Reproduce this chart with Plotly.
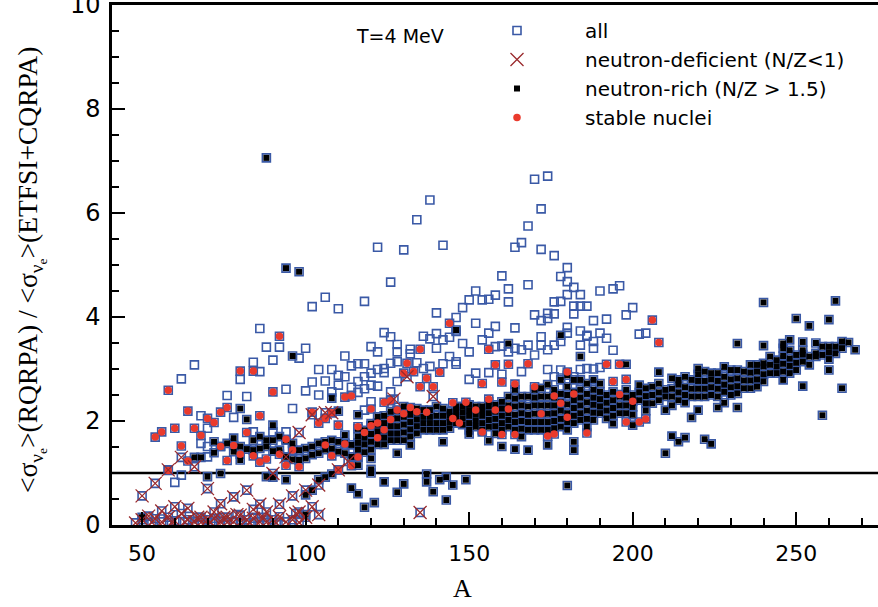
import plotly.graph_objects as go

# ---------------- data (A, ratio) ----------------
# nuclei shown only as open squares ("all" but in no other group)
other_A = [86,102,106,110,118,122,126,130,134,138,
           140,142,146,148,150,152,152,154,156,158,
           158,160,162,162,164,164,166,168,168,170,
           170,172,172,172,174,174,174,176,176,176,
           178,178,180,180,180,180,182,182,182,184,
           184,184,186,186,188,190,190,192,194,192,
           196,198,200,202,204,194,124,126,136,138,
           140,100,104,108,106,110,108,100,112,114,
           116,118,120,122,128,128,124,126,128,120,
           122,66,62,88,92,98,90,84,86,80,
           76,82,94,96,78,68,70,68,70,110,
           116,114,84,90,94,62,60,70,132,132,
           140,142,144,146,144,146,148,150,154,156,
           158,160,162,164,166,168,170,172,172,174,
           176,178,180,184,186,188,188,184,186,188,
           190,118,122,120,124,136,146,152,156,174,
           176,178,182,120,118,126,128,104,112,102,
           116,118,134,138,142,150,160,166]
other_R = [3.78,4.20,4.38,4.16,4.30,5.34,4.67,5.29,5.87,6.25,
           4.08,5.38,3.99,4.18,4.33,4.50,3.88,4.33,4.34,4.42,
           3.82,4.79,4.54,4.29,5.34,3.79,5.43,5.75,4.62,6.65,
           4.04,6.08,5.30,3.93,6.71,4.07,3.97,5.18,4.29,4.06,
           4.78,4.30,4.95,4.68,4.43,3.80,4.57,4.21,4.06,4.43,
           4.21,3.73,4.21,3.65,3.93,4.50,3.69,3.96,4.54,3.59,
           4.60,4.04,4.18,3.67,3.69,3.36,3.70,3.62,3.63,3.58,
           3.68,3.40,2.99,2.99,2.77,2.69,2.56,2.58,3.25,3.06,
           3.10,3.10,3.43,3.33,3.47,3.33,3.01,3.11,3.14,2.69,
           2.67,3.08,2.81,3.42,3.42,3.21,3.17,3.13,2.95,2.80,
           2.49,2.47,2.61,2.24,2.07,2.10,1.86,1.57,1.51,2.88,
           2.76,2.65,1.79,1.79,1.79,0.96,0.82,1.31,3.38,3.29,
           3.40,3.56,3.61,3.72,3.24,3.14,3.49,3.33,3.56,3.69,
           3.43,3.44,3.33,3.40,3.37,3.46,3.27,3.46,3.62,3.37,
           3.46,3.53,3.69,3.46,3.63,3.53,3.40,2.99,3.01,3.00,
           3.03,2.85,2.99,2.92,2.93,3.01,3.09,2.92,2.93,2.99,
           2.85,2.98,2.85,2.37,2.21,2.56,2.76,2.50,2.85,2.75,
           2.55,2.62,3.12,3.05,3.10,2.80,2.90,2.95]

# stable nuclei (red dots)
stable_A = [54,56,58,58,60,62,64,64,66,68,
            70,72,74,74,76,76,78,80,80,82,
            84,84,86,86,88,90,92,92,94,94,
            96,98,102,104,106,106,108,108,110,110,
            112,112,114,114,116,116,118,120,120,122,
            122,124,124,126,126,128,130,130,131,132,
            133,134,135,135,137,137,139,141,144,145,
            145,147,149,152,154,154,156,156,158,158,
            160,160,162,162,164,164,168,170,172,174,
            176,176,178,180,180,182,186,192,194,206,
            208,196,198,196,200,198,202,204]
stable_R = [1.69,1.79,2.59,1.05,1.86,1.52,2.19,1.23,1.86,1.72,
            2.05,1.97,2.17,1.51,2.26,1.24,1.53,2.96,1.36,1.78,
            2.96,1.33,2.10,1.21,1.27,2.56,3.63,1.36,1.65,1.15,
            1.44,1.12,2.17,1.96,2.05,1.54,2.16,1.33,1.92,1.06,
            2.46,1.56,2.48,1.14,1.89,1.31,1.78,2.23,1.91,1.96,
            1.68,2.36,1.83,2.39,2.03,2.21,2.14,2.92,3.11,2.26,
            2.95,2.18,3.38,2.66,2.82,2.17,2.66,2.94,3.88,2.35,
            2.05,1.96,2.36,2.21,2.72,1.79,3.38,2.42,3.08,2.21,
            2.75,1.74,3.09,2.23,2.71,1.74,3.10,2.66,2.14,1.71,
            2.48,1.75,2.34,2.94,2.07,2.52,1.77,3.09,2.76,3.94,
            3.51,3.09,2.80,2.51,2.38,1.98,1.98,2.04]

# neutron-deficient nuclei (crosses)
deficient_A = [48,50,50,52,53,54,54,56,56,58,
               58,59,60,60,62,62,63,64,64,66,
               66,67,68,68,70,70,71,72,72,74,
               74,75,76,76,78,78,79,80,80,82,
               82,83,84,84,86,86,87,88,88,90,
               90,91,92,92,94,94,96,96,97,98,
               98,98,100,100,102,102,104,104,106,108,
               110,113,127,131,139,135]
deficient_R = [0.04,0.56,0.10,0.17,0.05,0.80,0.12,0.27,0.06,1.06,
               0.15,0.05,0.35,0.08,1.30,0.22,0.06,0.32,0.10,1.12,
               0.06,0.15,0.15,0.05,0.70,0.10,0.05,0.13,0.25,0.41,
               0.06,0.15,0.15,0.05,0.54,0.06,0.20,0.19,0.05,0.67,
               0.10,0.04,0.13,0.30,0.40,0.06,0.15,0.25,0.05,0.99,
               0.10,0.04,0.40,0.16,1.31,0.06,0.56,0.10,0.22,1.78,
               0.25,0.05,0.67,0.15,0.35,2.12,0.77,0.20,2.16,2.16,
               1.06,1.22,2.42,2.85,2.47,0.24]

# neutron-rich nuclei (black squares): scattered points
rich_A = [50,88,94,98,96,80,82,90,108,110,
          146,162,178,184,180,70,74,88,90,94,
          100,100,102,104,106,108,114,116,118,120,
          121,124,128,130,137,137,139,141,143,143,
          145,149,66,68,72,72,74,76,78,78,
          80,80,82,84,84,86,86,88,88,90,
          90,92,92,94,94,96,96,98,98,100,
          100,102,102,104,104,106,106,108,108,110,
          110,112,112,112,114,114,116,
          240,262,250,260,254,232,240,248,252,256,
          260,252,264,258,208,198,212,214,216,210,
          222,224,210,218,226,232,220,200,
          128,132,142,150,156,160,164,168,174,182,
          182,120,116]
rich_R = [0.15,7.06,4.94,4.87,3.25,2.24,2.03,1.92,2.44,2.19,
          3.75,3.49,3.65,3.24,0.76,0.93,0.99,0.93,0.92,0.87,
          0.58,0.20,0.67,0.87,0.92,0.98,0.71,0.60,0.34,1.00,
          0.43,0.83,0.63,0.79,0.98,0.83,0.64,0.87,0.92,0.48,
          0.77,0.87,1.30,1.30,1.60,1.39,1.51,1.57,1.67,1.41,
          1.51,1.25,1.46,1.63,1.44,1.70,1.47,1.51,1.63,1.63,
          1.42,1.70,1.44,1.63,1.31,1.57,1.26,1.44,1.25,1.47,
          1.28,1.51,1.35,1.57,1.38,1.60,1.45,1.63,1.47,1.60,
          1.41,1.73,1.57,1.38,1.54,1.31,2.12,
          4.28,4.31,3.97,3.95,3.83,3.49,3.45,3.56,3.52,3.50,
          2.98,2.67,2.63,2.11,2.94,3.09,1.71,1.60,1.68,1.38,
          1.65,1.56,2.21,2.07,2.26,2.26,2.21,1.92,
          1.38,1.54,1.60,1.75,1.62,1.51,1.46,1.44,1.54,1.60,
          1.44,1.07,1.15]

# neutron-rich nuclei forming the dense band: one column of ratios per A
band_A = [116,118,120,122,124,126,128,130,132,134,136,138,140,142,144,146,148,150,
          152,154,156,158,160,162,164,166,168,170,172,174,176,178,180,182,184,186,
          188,190,192,194,196,198,200,202,204,206,208,210,212,214,216,218,220,222,
          224,226,228,230,232,234,236,238,240,242,244,246,248,250,252,254,256,258,
          260,262,264,266,268]
band_R = [[1.31,1.45,1.58,1.70,1.85],[1.40,1.55,1.68,1.82],[1.28,1.45,1.60,1.75,1.95],
          [1.55,1.68,1.80,1.93,2.08],[1.55,1.68,1.82,1.96,2.10],[1.63,1.76,1.90,2.04,2.18],
          [1.63,1.76,1.90,2.05,2.20],[1.63,1.78,1.93,2.08,2.28],[1.70,1.84,1.98,2.12,2.21],
          [1.76,1.90,2.03,2.16,2.24],[1.83,1.96,2.08,2.21],[1.83,1.96,2.08,2.21],
          [1.83,1.96,2.10,2.28],[1.83,1.96,2.10,2.24],[1.86,1.98,2.10,2.18],
          [1.96,2.08,2.18,2.28],[1.93,2.05,2.17,2.28],[1.83,1.96,2.10,2.20,2.31],
          [1.89,2.00,2.12,2.28],[1.83,1.96,2.10,2.21,2.28],[1.89,2.02,2.15,2.28,2.37],
          [1.76,1.90,2.04,2.18,2.31],[1.83,1.96,2.10,2.24,2.37],[1.89,2.02,2.15,2.30,2.47],
          [1.83,1.98,2.12,2.28,2.43,2.60],[1.70,1.85,2.00,2.15,2.30,2.47],
          [1.83,1.98,2.12,2.28,2.47],[1.83,1.98,2.14,2.30,2.45,2.60],
          [1.83,1.98,2.14,2.30,2.47,2.63],[1.83,1.98,2.14,2.30,2.47,2.70],
          [1.86,2.00,2.15,2.30,2.45,2.60],[1.89,2.04,2.20,2.36,2.52,2.79],
          [1.83,1.98,2.15,2.32,2.50,2.66,2.88],[1.96,2.10,2.25,2.40,2.55,2.79],
          [2.02,2.15,2.30,2.45,2.60,2.79],[1.89,2.04,2.20,2.36,2.52,2.72],
          [2.02,2.16,2.31,2.45,2.60,2.79],[2.15,2.28,2.42,2.56,2.72],
          [2.05,2.20,2.35,2.50],[1.95,2.10,2.25,2.40,2.56],[2.15,2.30,2.47],
          [2.15,2.30,2.45,2.60],[2.12,2.27,2.40,2.50],[2.40,2.55,2.69],
          [2.20,2.34,2.48,2.63],[2.34,2.50,2.66],[2.40,2.55,2.72],[2.47,2.60],
          [2.30,2.47,2.62,2.82],[2.40,2.55,2.70,2.79],[2.35,2.50,2.65,2.85],
          [2.47,2.62,2.79],[2.47,2.62,2.77,2.90,3.01],[2.47,2.62,2.77,2.95],
          [2.50,2.65,2.80,2.92],[2.47,2.62,2.77,2.92],[2.35,2.56,2.70,2.85,3.04],
          [2.50,2.65,2.80,2.98],[2.53,2.67,2.82,2.98],[2.63,2.78,2.95],
          [2.63,2.78,2.93,3.08],[2.66,2.80,2.95,3.08],[2.76,2.90,3.05,3.11],
          [2.92,3.08,3.24],[2.92,3.05,3.17],[2.79,2.95,3.10,3.25,3.40,3.49],
          [2.92,3.06,3.20,3.36],[2.98,3.12,3.27],[3.14,3.28,3.36],[3.08,3.24],
          [3.24,3.30],[3.27,3.43],[3.19,3.32,3.43],[3.30,3.43],[3.40,3.53],[3.51],[3.37]]

y_ticks = [0, 2, 4, 6, 8, 10]
x_ticks = [50, 100, 150, 200, 250]

assert len(other_A) == len(other_R)
assert len(stable_A) == len(stable_R)
assert len(deficient_A) == len(deficient_R)
assert len(rich_A) == len(rich_R)
assert len(band_A) == len(band_R)

richall_A = list(rich_A)
richall_R = list(rich_R)
for a, col in zip(band_A, band_R):
    for r in col:
        richall_A.append(a)
        richall_R.append(r)

all_A = other_A + richall_A + stable_A + deficient_A
all_R = other_R + richall_R + stable_R + deficient_R

# ---------------- styling ----------------
BLUE = '#3a59a6'
RED = '#ea3a2c'
DRED = '#9a2a2c'
SANS = 'DejaVu Sans, Arial, sans-serif'
SERIF = 'Liberation Serif, Times New Roman, serif'

fig = go.Figure()
fig.add_trace(go.Scatter(
    x=all_A, y=all_R, mode='markers', name='all', legendrank=1,
    marker=dict(symbol='square-open', size=8, color=BLUE, line=dict(width=1.6, color=BLUE))))
fig.add_trace(go.Scatter(
    x=richall_A, y=richall_R, mode='markers', name='neutron-rich (N/Z > 1.5)', legendrank=3,
    marker=dict(symbol='square', size=6, color='black', line=dict(width=0))))
fig.add_trace(go.Scatter(
    x=stable_A, y=stable_R, mode='markers', name='stable nuclei', legendrank=4,
    marker=dict(symbol='circle', size=7.5, color=RED, line=dict(width=0))))
fig.add_trace(go.Scatter(
    x=deficient_A, y=deficient_R, mode='markers', name='neutron-deficient (N/Z<1)', legendrank=2,
    marker=dict(symbol='x-thin', size=13, color=DRED, line=dict(width=1.3, color=DRED))))

axis_common = dict(
    ticks='inside', ticklen=13, tickwidth=2, tickcolor='black',
    showline=True, linewidth=2.5, linecolor='black', automargin=False,
    showgrid=False, zeroline=False, ticklabeloverflow='allow',
)

fig.update_layout(
    width=878, height=607,
    margin=dict(l=112, r=0, t=5, b=82, autoexpand=False),
    paper_bgcolor='white', plot_bgcolor='white',
    showlegend=True,
    legend=dict(x=(449 - 112) / 766, y=(525 - 11) / 520, xanchor='left', yanchor='top',
                bgcolor='rgba(0,0,0,0)', itemwidth=126,
                font=dict(family=SANS, size=20, color='black')),
    xaxis=dict(range=[40.8, 275], tickmode='array', tickvals=x_ticks, mirror=True,
               minor=dict(tickmode='linear', tick0=0, dtick=10, ticks='inside', ticklen=7,
                          tickwidth=1.5, tickcolor='black', showgrid=False),
               ticklabelstandoff=7, tickfont=dict(family=SANS, size=22, color='black'),
               **axis_common),
    yaxis=dict(range=[0, 10], tickmode='array', tickvals=y_ticks, mirror=False,
               minor=dict(tickmode='linear', tick0=0, dtick=0.5, ticks='inside', ticklen=7,
                          tickwidth=1.5, tickcolor='black', showgrid=False),
               ticklabelstandoff=4, tickfont=dict(family=SANS, size=24, color='black'),
               **axis_common),
    shapes=[dict(type='line', xref='paper', x0=0, x1=1, yref='y', y0=1, y1=1,
                 line=dict(color='black', width=2.5), layer='below')],
    annotations=[
        dict(text='T=4 MeV', xref='paper', yref='paper',
             x=(400 - 112) / 766, y=(525 - 36) / 520, showarrow=False,
             xanchor='center', yanchor='middle', font=dict(family=SANS, size=19, color='black')),
        dict(text='A', xref='x', yref='paper', x=148, y=(525 - 588) / 520,
             showarrow=False, xanchor='center', yanchor='middle',
             font=dict(family=SERIF, size=26, color='black')),
        dict(text='&lt;σ<sub>ν<sub>e</sub></sub>&gt;(RQRPA) / &lt;σ<sub>ν<sub>e</sub></sub>&gt;(ETFSI+CQRPA)',
             xref='paper', yref='paper', x=(31 - 112) / 766, y=(525 - 270) / 520,
             textangle=-90, showarrow=False, xanchor='center', yanchor='middle',
             font=dict(family=SERIF, size=27.5, color='black')),
    ],
)

fig.write_html('out.html', config={'displayModeBar': False},
               post_script="document.body.style.margin='0px';")
